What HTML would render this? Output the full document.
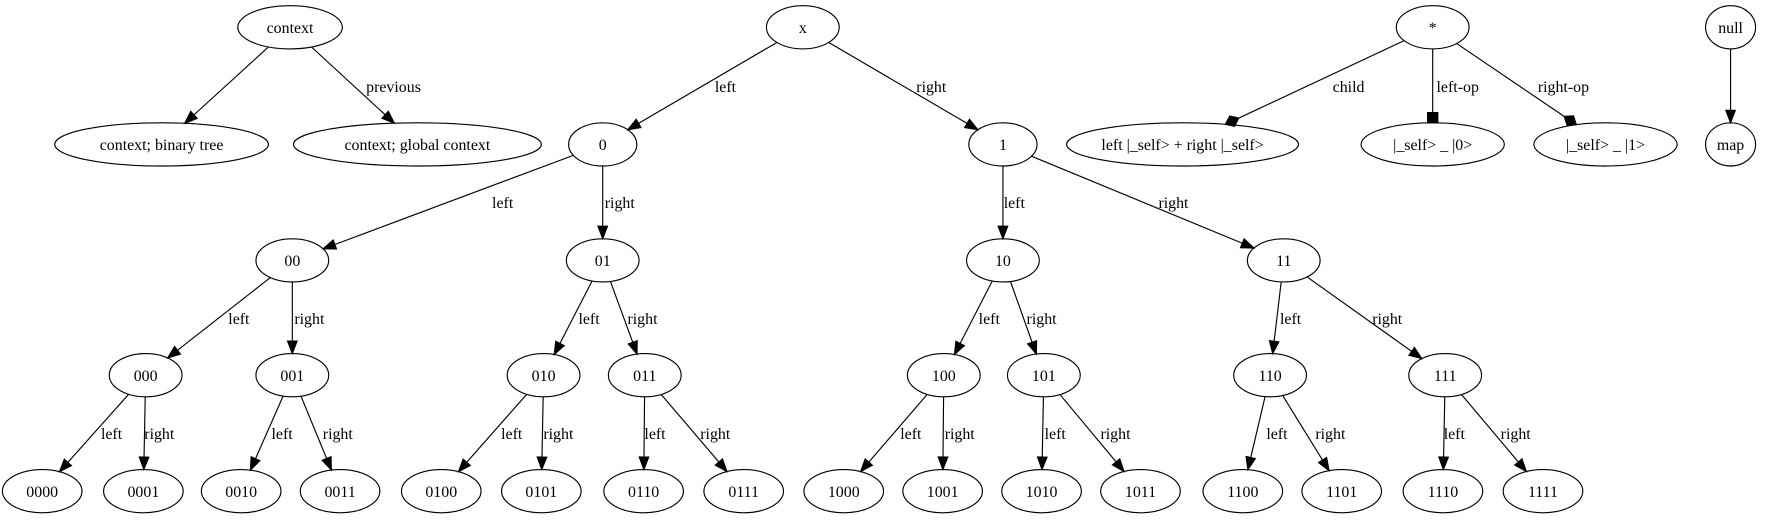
<!DOCTYPE html>
<html><head><meta charset="utf-8"><style>
html,body{margin:0;padding:0;background:#fff}
svg{display:block}
text{font-family:"Liberation Serif",serif;font-size:14px;fill:#000}
</style></head><body>
<svg id="g" width="1783" height="523" viewBox="0 0 1568 460" xmlns="http://www.w3.org/2000/svg"></svg>
<script>
var N={
context:[255,24,46,19,"context"],
cbt:[142,127,94,19,"context; binary tree"],
cgc:[367,127,109,19,"context; global context"],
x:[706,24,32,19,"x"],
n0:[530,127,30,19,"0"],n1:[882,127,30,19,"1"],
n00:[257,229,32,19,"00"],n01:[530,229,32,19,"01"],n10:[882,229,32,19,"10"],n11:[1129,229,32,19,"11"],
n000:[128,330,32,19,"000"],n001:[257,330,32,19,"001"],n010:[478,330,32,19,"010"],n011:[567,330,32,19,"011"],
n100:[830,330,32,19,"100"],n101:[918,330,32,19,"101"],n110:[1117,330,32,19,"110"],n111:[1271,330,32,19,"111"],
star:[1260,24,32,19,"*"],
lr:[1040,127,102,19,"left |_self> + right |_self>"],
s0:[1260,127,63,19,"|_self> _ |0>"],
s1:[1412,127,63,19,"|_self> _ |1>"],
nul:[1522,24,22,19,"null"],map:[1522,127,22,19,"map"]
};
var leaves=["0000","0001","0010","0011","0100","0101","0110","0111","1000","1001","1010","1011","1100","1101","1110","1111"];
var lx=[37,126,212,299,388,476,566,654,742,829,916,1003,1093,1180,1269,1357];
leaves.forEach(function(l,i){N["n"+l]=[lx[i],432,35,19,l];});
var E=[["context","cbt",""],["context","cgc","previous",346,76],
["x","n0","left",638,76],["x","n1","right",819,76],
["n0","n00","left",442,178],["n0","n01","right",545,178],
["n1","n10","left",892,178],["n1","n11","right",1032,178],
["n00","n000","left",210,280],["n00","n001","right",272,280],
["n01","n010","left",518,280],["n01","n011","right",565,280],
["n10","n100","left",870,280],["n10","n101","right",916,280],
["n11","n110","left",1135,280],["n11","n111","right",1220,280],
["nul","map",""],
["star","lr","child",1186,76,"d"],["star","s0","left-op",1282,76,"b"],["star","s1","right-op",1375,76,"d"]];
var l3=[["n000",98,140],["n001",248,297],["n010",450,491],["n011",576,629],["n100",801,844],["n101",928,981],["n110",1123,1170],["n111",1279,1333]];
l3.forEach(function(a,i){var k=a[0].slice(1);E.push([a[0],"n"+k+"0","left",a[1],381]);E.push([a[0],"n"+k+"1","right",a[2],381]);});
var s="";
function clip(n,dx,dy){var t=1/Math.sqrt((dx*dx)/(n[2]*n[2])+(dy*dy)/(n[3]*n[3]));return [n[0]+dx*t,n[1]+dy*t];}
function esc(t){return t.replace(/&/g,"&amp;").replace(/</g,"&lt;").replace(/>/g,"&gt;");}
E.forEach(function(e){
 var a=N[e[0]],b=N[e[1]],dx=b[0]-a[0],dy=b[1]-a[1];
 var p=clip(a,dx,dy),q=clip(b,-dx,-dy);
 var L=Math.hypot(dx,dy),ux=dx/L,uy=dy/L,px=-uy,py=ux;
 var t=e[5];
 var len=t=="d"?13:(t=="b"?9:11);
 var bx=q[0]-ux*len,by=q[1]-uy*len;
 s+='<line x1="'+p[0]+'" y1="'+p[1]+'" x2="'+bx+'" y2="'+by+'" stroke="#000" stroke-width="1"/>';
 var pts;
 if(t=="d"){var mx=q[0]-ux*6.5,my=q[1]-uy*6.5;pts=[[q[0],q[1]],[mx+px*5,my+py*5],[bx,by],[mx-px*5,my-py*5]];}
 else if(t=="b"){pts=[[q[0]+px*4.5,q[1]+py*4.5],[q[0]-px*4.5,q[1]-py*4.5],[bx-px*4.5,by-py*4.5],[bx+px*4.5,by+py*4.5]];}
 else pts=[[q[0],q[1]],[bx+px*4.2,by+py*4.2],[bx-px*4.2,by-py*4.2]];
 s+='<polygon points="'+pts.map(function(z){return z.join(",")}).join(" ")+'" fill="#000" stroke="#000"/>';
 if(e[2])s+='<text x="'+e[3]+'" y="'+(e[4]+5)+'" text-anchor="middle">'+esc(e[2])+'</text>';
});
for(var k in N){var n=N[k];
 s+='<ellipse cx="'+n[0]+'" cy="'+n[1]+'" rx="'+n[2]+'" ry="'+n[3]+'" fill="none" stroke="#000"/>';
 s+='<text x="'+n[0]+'" y="'+(n[1]+5)+'" text-anchor="middle">'+esc(n[4])+'</text>';}
document.getElementById("g").innerHTML=s;
</script>
</body></html>
